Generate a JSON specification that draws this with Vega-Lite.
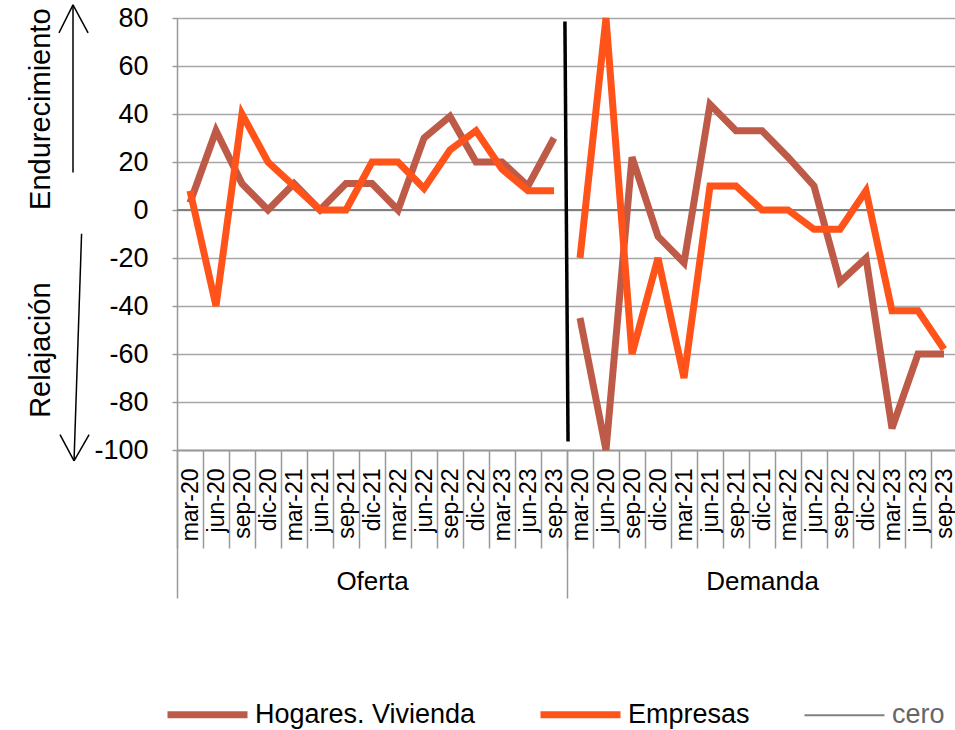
{
  "$schema": "https://vega.github.io/schema/vega-lite/v6.json",
  "width": 780,
  "height": 432,
  "autosize": {"type": "none"},
  "padding": {"left": 177, "top": 18, "right": 0, "bottom": 280},
  "config": {
    "view": {"stroke": null},
    "font": "Liberation Sans",
    "axis": {"domainColor": "#999999", "domainWidth": 1.5, "tickColor": "#999999", "tickWidth": 1.5, "labelColor": "#000000", "labelFont": "Liberation Sans"},
    "axisY": {"values": [-100, -80, -60, -40, -20, 0, 20, 40, 60, 80], "labelExpr": "'' + datum.value", "labelFontSize": 27, "tickSize": 5, "labelPadding": 24, "grid": true, "gridColor": "#A6A6A6", "gridWidth": 1.5, "title": null},
    "legend": {
      "orient": "none", "legendX": 17, "legendY": 683, "direction": "horizontal", "title": null,
      "symbolType": "stroke", "symbolSize": 6400, "symbolStrokeWidth": 7,
      "labelFontSize": 27, "labelFont": "Liberation Sans", "labelOffset": 34, "columnPadding": 50, "labelLimit": 400, "labelColor": "#000000"
    }
  },
  "datasets": {
    "series": [
      {"panel": "Oferta", "fecha": "mar-20", "key": "Oferta|mar-20", "serie": "Hogares. Vivienda", "valor": 3},
      {"panel": "Oferta", "fecha": "jun-20", "key": "Oferta|jun-20", "serie": "Hogares. Vivienda", "valor": 33},
      {"panel": "Oferta", "fecha": "sep-20", "key": "Oferta|sep-20", "serie": "Hogares. Vivienda", "valor": 11},
      {"panel": "Oferta", "fecha": "dic-20", "key": "Oferta|dic-20", "serie": "Hogares. Vivienda", "valor": 0},
      {"panel": "Oferta", "fecha": "mar-21", "key": "Oferta|mar-21", "serie": "Hogares. Vivienda", "valor": 11},
      {"panel": "Oferta", "fecha": "jun-21", "key": "Oferta|jun-21", "serie": "Hogares. Vivienda", "valor": 0},
      {"panel": "Oferta", "fecha": "sep-21", "key": "Oferta|sep-21", "serie": "Hogares. Vivienda", "valor": 11},
      {"panel": "Oferta", "fecha": "dic-21", "key": "Oferta|dic-21", "serie": "Hogares. Vivienda", "valor": 11},
      {"panel": "Oferta", "fecha": "mar-22", "key": "Oferta|mar-22", "serie": "Hogares. Vivienda", "valor": 0},
      {"panel": "Oferta", "fecha": "jun-22", "key": "Oferta|jun-22", "serie": "Hogares. Vivienda", "valor": 30},
      {"panel": "Oferta", "fecha": "sep-22", "key": "Oferta|sep-22", "serie": "Hogares. Vivienda", "valor": 39},
      {"panel": "Oferta", "fecha": "dic-22", "key": "Oferta|dic-22", "serie": "Hogares. Vivienda", "valor": 20},
      {"panel": "Oferta", "fecha": "mar-23", "key": "Oferta|mar-23", "serie": "Hogares. Vivienda", "valor": 20},
      {"panel": "Oferta", "fecha": "jun-23", "key": "Oferta|jun-23", "serie": "Hogares. Vivienda", "valor": 10},
      {"panel": "Oferta", "fecha": "sep-23", "key": "Oferta|sep-23", "serie": "Hogares. Vivienda", "valor": 30},
      {"panel": "Demanda", "fecha": "mar-20", "key": "Demanda|mar-20", "serie": "Hogares. Vivienda", "valor": -45},
      {"panel": "Demanda", "fecha": "jun-20", "key": "Demanda|jun-20", "serie": "Hogares. Vivienda", "valor": -100},
      {"panel": "Demanda", "fecha": "sep-20", "key": "Demanda|sep-20", "serie": "Hogares. Vivienda", "valor": 22},
      {"panel": "Demanda", "fecha": "dic-20", "key": "Demanda|dic-20", "serie": "Hogares. Vivienda", "valor": -11},
      {"panel": "Demanda", "fecha": "mar-21", "key": "Demanda|mar-21", "serie": "Hogares. Vivienda", "valor": -22},
      {"panel": "Demanda", "fecha": "jun-21", "key": "Demanda|jun-21", "serie": "Hogares. Vivienda", "valor": 44},
      {"panel": "Demanda", "fecha": "sep-21", "key": "Demanda|sep-21", "serie": "Hogares. Vivienda", "valor": 33},
      {"panel": "Demanda", "fecha": "dic-21", "key": "Demanda|dic-21", "serie": "Hogares. Vivienda", "valor": 33},
      {"panel": "Demanda", "fecha": "mar-22", "key": "Demanda|mar-22", "serie": "Hogares. Vivienda", "valor": 22},
      {"panel": "Demanda", "fecha": "jun-22", "key": "Demanda|jun-22", "serie": "Hogares. Vivienda", "valor": 10},
      {"panel": "Demanda", "fecha": "sep-22", "key": "Demanda|sep-22", "serie": "Hogares. Vivienda", "valor": -30},
      {"panel": "Demanda", "fecha": "dic-22", "key": "Demanda|dic-22", "serie": "Hogares. Vivienda", "valor": -20},
      {"panel": "Demanda", "fecha": "mar-23", "key": "Demanda|mar-23", "serie": "Hogares. Vivienda", "valor": -91},
      {"panel": "Demanda", "fecha": "jun-23", "key": "Demanda|jun-23", "serie": "Hogares. Vivienda", "valor": -60},
      {"panel": "Demanda", "fecha": "sep-23", "key": "Demanda|sep-23", "serie": "Hogares. Vivienda", "valor": -60},
      {"panel": "Oferta", "fecha": "mar-20", "key": "Oferta|mar-20", "serie": "Empresas", "valor": 8},
      {"panel": "Oferta", "fecha": "jun-20", "key": "Oferta|jun-20", "serie": "Empresas", "valor": -40},
      {"panel": "Oferta", "fecha": "sep-20", "key": "Oferta|sep-20", "serie": "Empresas", "valor": 40},
      {"panel": "Oferta", "fecha": "dic-20", "key": "Oferta|dic-20", "serie": "Empresas", "valor": 20},
      {"panel": "Oferta", "fecha": "mar-21", "key": "Oferta|mar-21", "serie": "Empresas", "valor": 10},
      {"panel": "Oferta", "fecha": "jun-21", "key": "Oferta|jun-21", "serie": "Empresas", "valor": 0},
      {"panel": "Oferta", "fecha": "sep-21", "key": "Oferta|sep-21", "serie": "Empresas", "valor": 0},
      {"panel": "Oferta", "fecha": "dic-21", "key": "Oferta|dic-21", "serie": "Empresas", "valor": 20},
      {"panel": "Oferta", "fecha": "mar-22", "key": "Oferta|mar-22", "serie": "Empresas", "valor": 20},
      {"panel": "Oferta", "fecha": "jun-22", "key": "Oferta|jun-22", "serie": "Empresas", "valor": 9},
      {"panel": "Oferta", "fecha": "sep-22", "key": "Oferta|sep-22", "serie": "Empresas", "valor": 25},
      {"panel": "Oferta", "fecha": "dic-22", "key": "Oferta|dic-22", "serie": "Empresas", "valor": 33},
      {"panel": "Oferta", "fecha": "mar-23", "key": "Oferta|mar-23", "serie": "Empresas", "valor": 17},
      {"panel": "Oferta", "fecha": "jun-23", "key": "Oferta|jun-23", "serie": "Empresas", "valor": 8},
      {"panel": "Oferta", "fecha": "sep-23", "key": "Oferta|sep-23", "serie": "Empresas", "valor": 8},
      {"panel": "Demanda", "fecha": "mar-20", "key": "Demanda|mar-20", "serie": "Empresas", "valor": -20},
      {"panel": "Demanda", "fecha": "jun-20", "key": "Demanda|jun-20", "serie": "Empresas", "valor": 80},
      {"panel": "Demanda", "fecha": "sep-20", "key": "Demanda|sep-20", "serie": "Empresas", "valor": -60},
      {"panel": "Demanda", "fecha": "dic-20", "key": "Demanda|dic-20", "serie": "Empresas", "valor": -20},
      {"panel": "Demanda", "fecha": "mar-21", "key": "Demanda|mar-21", "serie": "Empresas", "valor": -70},
      {"panel": "Demanda", "fecha": "jun-21", "key": "Demanda|jun-21", "serie": "Empresas", "valor": 10},
      {"panel": "Demanda", "fecha": "sep-21", "key": "Demanda|sep-21", "serie": "Empresas", "valor": 10},
      {"panel": "Demanda", "fecha": "dic-21", "key": "Demanda|dic-21", "serie": "Empresas", "valor": 0},
      {"panel": "Demanda", "fecha": "mar-22", "key": "Demanda|mar-22", "serie": "Empresas", "valor": 0},
      {"panel": "Demanda", "fecha": "jun-22", "key": "Demanda|jun-22", "serie": "Empresas", "valor": -8},
      {"panel": "Demanda", "fecha": "sep-22", "key": "Demanda|sep-22", "serie": "Empresas", "valor": -8},
      {"panel": "Demanda", "fecha": "dic-22", "key": "Demanda|dic-22", "serie": "Empresas", "valor": 8},
      {"panel": "Demanda", "fecha": "mar-23", "key": "Demanda|mar-23", "serie": "Empresas", "valor": -42},
      {"panel": "Demanda", "fecha": "jun-23", "key": "Demanda|jun-23", "serie": "Empresas", "valor": -42},
      {"panel": "Demanda", "fecha": "sep-23", "key": "Demanda|sep-23", "serie": "Empresas", "valor": -58}
    ],
    "cero": [{"serie": "cero", "valor": 0}],
    "paneles": [{"panel": "Oferta"}, {"panel": "Demanda"}],
    "flechas": [
      {"x": -4.0, "valor": 15.6, "x2": -4.0, "valor2": 85.5},
      {"x": -4.54, "valor": 73.8, "x2": -4.0, "valor2": 85.5},
      {"x": -3.42, "valor": 73.8, "x2": -4.0, "valor2": 85.5},
      {"x": -3.67, "valor": -9.9, "x2": -3.96, "valor2": -104.5},
      {"x": -4.5, "valor": -93.6, "x2": -3.96, "valor2": -104.5},
      {"x": -3.38, "valor": -93.6, "x2": -3.96, "valor2": -104.5}
    ],
    "separador": [{"x": 14.92, "valor": 78.5, "x2": 15.04, "valor2": -96.5}],
    "textos": [
      {"texto": "Endurecimiento", "x": -5.25, "valor": 42},
      {"texto": "Relajación", "x": -5.25, "valor": -58.4}
    ]
  },
  "resolve": {"scale": {"x": "independent"}},
  "layer": [
    {
      "layer": [
        {
          "data": {"name": "cero"},
          "mark": {"type": "rule", "strokeWidth": 2},
          "encoding": {
            "y": {"field": "valor", "type": "quantitative", "scale": {"domain": [-100, 80], "nice": false, "zero": false}, "title": null},
            "color": {
              "field": "serie", "type": "nominal",
              "scale": {"domain": ["Hogares. Vivienda", "Empresas", "cero"], "range": ["#BE5A48", "#FF531A", "#808080"]},
              "title": null,
              "legend": {
                "encode": {
                  "symbols": {"update": {"strokeWidth": {"signal": "datum.value === 'cero' ? 2 : 7"}}},
                  "labels": {"update": {"fill": {"signal": "datum.value === 'cero' ? '#666666' : '#000000'"}}}
                }
              }
            }
          }
        },
        {
          "data": {"name": "series"},
          "mark": {"type": "line", "strokeWidth": 7, "strokeCap": "butt", "strokeJoin": "miter"},
          "encoding": {
            "x": {
              "field": "key", "type": "nominal", "sort": null, "bandPosition": 0.5,
              "scale": {"type": "band", "paddingInner": 0, "paddingOuter": 0},
              "axis": {"labelExpr": "split(datum.value, '|')[1]", "labelAngle": -90, "labelFontSize": 23, "tickBand": "extent", "tickSize": 98, "labelPadding": -80, "grid": false, "title": null}
            },
            "y": {"field": "valor", "type": "quantitative", "scale": {"domain": [-100, 80], "nice": false, "zero": false}, "title": null},
            "color": {
              "field": "serie", "type": "nominal",
              "scale": {"domain": ["Hogares. Vivienda", "Empresas", "cero"], "range": ["#BE5A48", "#FF531A", "#808080"]},
              "title": null,
              "legend": {
                "encode": {
                  "symbols": {"update": {"strokeWidth": {"signal": "datum.value === 'cero' ? 2 : 7"}}},
                  "labels": {"update": {"fill": {"signal": "datum.value === 'cero' ? '#666666' : '#000000'"}}}
                }
              }
            },
            "detail": {"field": "panel", "type": "nominal"}
          }
        }
      ]
    },
    {
      "data": {"name": "paneles"},
      "mark": {"type": "point", "opacity": 0},
      "encoding": {
        "x": {
          "field": "panel", "type": "nominal", "sort": null,
          "scale": {"type": "band", "paddingInner": 0, "paddingOuter": 0},
          "axis": {"orient": "bottom", "tickBand": "extent", "tickSize": 148, "labelPadding": -30, "labelFontSize": 26, "labelAngle": 0, "grid": false, "title": null}
        }
      }
    },
    {
      "layer": [
        {
          "data": {"name": "flechas"},
          "mark": {"type": "rule", "color": "#000000", "strokeWidth": 1.5},
          "encoding": {
            "x": {"field": "x", "type": "quantitative", "scale": {"domain": [0, 30], "nice": false, "zero": false}, "axis": null},
            "x2": {"field": "x2"},
            "y": {"field": "valor", "type": "quantitative", "scale": {"domain": [-100, 80], "nice": false, "zero": false}, "title": null},
            "y2": {"field": "valor2"}
          }
        },
        {
          "data": {"name": "separador"},
          "mark": {"type": "rule", "color": "#000000", "strokeWidth": 3.5},
          "encoding": {
            "x": {"field": "x", "type": "quantitative", "scale": {"domain": [0, 30], "nice": false, "zero": false}, "axis": null},
            "x2": {"field": "x2"},
            "y": {"field": "valor", "type": "quantitative", "scale": {"domain": [-100, 80], "nice": false, "zero": false}, "title": null},
            "y2": {"field": "valor2"}
          }
        },
        {
          "data": {"name": "textos"},
          "mark": {"type": "text", "angle": 270, "fontSize": 29, "align": "center", "baseline": "middle", "color": "#000000", "font": "Liberation Sans"},
          "encoding": {
            "x": {"field": "x", "type": "quantitative", "scale": {"domain": [0, 30], "nice": false, "zero": false}, "axis": null},
            "y": {"field": "valor", "type": "quantitative", "scale": {"domain": [-100, 80], "nice": false, "zero": false}, "title": null},
            "text": {"field": "texto"}
          }
        }
      ]
    }
  ]
}
